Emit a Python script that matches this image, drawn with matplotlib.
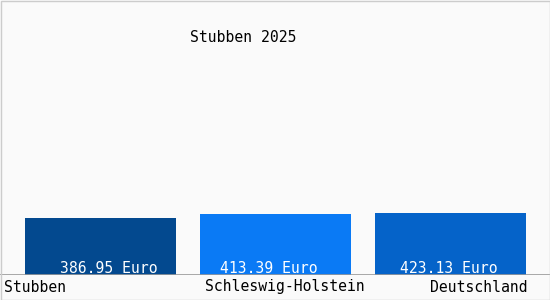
import matplotlib
matplotlib.use("Agg")
import matplotlib.pyplot as plt
from matplotlib.patches import Rectangle

categories = ["Stubben", "Schleswig-Holstein", "Deutschland"]
values = [386.95, 413.39, 423.13]
value_labels = ["386.95 Euro", "413.39 Euro", "423.13 Euro"]
title = "Stubben 2025"
colors = ["#03498f", "#0a7af5", "#0563c9"]

FONT = "DejaVu Sans Mono"
FS = 10.6

fig = plt.figure(figsize=(5.5, 3.0), dpi=100)
fig.patch.set_facecolor("#fafafa")
fig.patches.append(Rectangle((0.5/550, 0.5/300), 1 - 1/550, 1 - 1/300, transform=fig.transFigure,
                             fill=False, edgecolor="#cccccc", linewidth=1.0))

ax = fig.add_axes([0, 25/300, 1, 275/300])
ax.set_facecolor("none")
ax.set_xlim(0, 550)
ax.set_ylim(0, 1877)
for s in ax.spines.values():
    s.set_visible(False)
ax.set_xticks([])
ax.set_yticks([])

centers = [100, 275, 450]
ax.bar(centers, values, width=151, color=colors)
ax.axhline(0, color="#999999", linewidth=1.2)

label_x = [109, 269, 449]
for x, lab in zip(label_x, value_labels):
    ax.text(x, 45, lab, ha="center", va="center", color="white", family=FONT, fontsize=FS)

fig.text(4/550, 1 - 287/300, categories[0], ha="left", va="center", family=FONT, fontsize=FS)
fig.text(205/550, 1 - 287/300, categories[1], ha="left", va="center", family=FONT, fontsize=FS)
fig.text(528/550, 1 - 287/300, categories[2], ha="right", va="center", family=FONT, fontsize=FS)

fig.text(243/550, 1 - 38/300, title, ha="center", va="center", family=FONT, fontsize=FS)

fig.savefig("out.png", dpi=100, facecolor=fig.get_facecolor())
